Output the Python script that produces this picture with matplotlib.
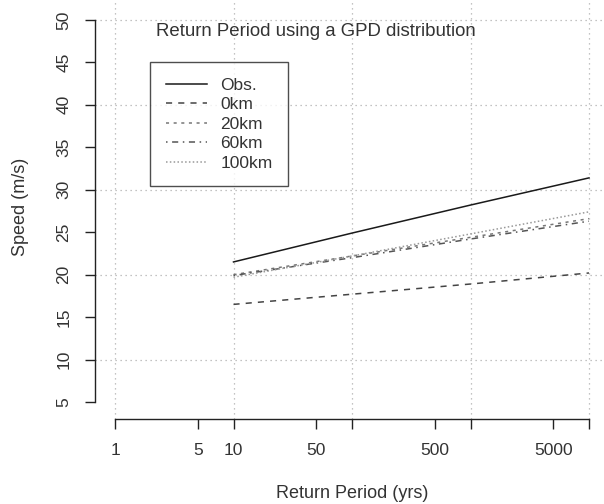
import numpy as np
import matplotlib.pyplot as plt

plt.rcParams['font.family'] = ['Liberation Sans', 'DejaVu Sans']

# return periods (yrs) and return levels (m/s)
return_period = [10, 100, 1000, 10000]
obs = [21.5, 24.9, 28.2, 31.4]
km0 = [16.5, 17.7, 18.9, 20.2]
km20 = [20.0, 22.2, 24.4, 26.6]
km60 = [19.9, 22.0, 24.2, 26.3]
km100 = [19.7, 22.2, 24.8, 27.4]
labels = ["Obs.", "0km", "20km", "60km", "100km"]

x_ticks = [1, 5, 10, 50, 100, 500, 1000, 5000, 10000]
x_ticklabels = ["1", "5", "10", "50", "", "500", "", "5000", ""]
y_ticks = [5, 10, 15, 20, 25, 30, 35, 40, 45, 50]

W, H = 604, 504
fig = plt.figure(figsize=(W / 100, H / 100), dpi=100)
# axes box: left edge at the y axis (x=95 px), bottom at the x axis (y=419 px)
ax = fig.add_axes([95 / W, (H - 419) / H, (W - 95) / W, 419 / H])
ax.set_xscale("log")
ax.set_xlim(10 ** (-20 / 118.5), 10 ** ((W - 115) / 118.5))
ax.set_ylim(5 - 17 / 8.5, 50 + 20 / 8.5)

tc = "#333333"
# dotted grid
for gx in [1, 10, 100, 1000, 10000]:
    ax.axvline(gx, color="#b0b0b0", lw=0.9, ls=(0, (1, 3)), zorder=0)
for gy in [10, 20, 30, 40, 50]:
    ax.axhline(gy, color="#b0b0b0", lw=0.9, ls=(0, (1, 3)), zorder=0)

styles = [("#1a1a1a", "-"), ("#444444", (0, (4, 4))), ("#777777", (0, (2, 3))),
          ("#555555", (0, (1, 3, 4, 3))), ("#999999", (0, (1, 1.5)))]
for ys, lab, (c, ls) in zip([obs, km0, km20, km60, km100], labels, styles):
    ax.plot(return_period, ys, color=c, ls=ls, lw=1.1, label=lab)

for s in ["top", "right"]:
    ax.spines[s].set_visible(False)
ax.spines["left"].set_bounds(5, 50)
ax.spines["bottom"].set_bounds(1, 10000)
for s in ["left", "bottom"]:
    ax.spines[s].set_color("#222222")
    ax.spines[s].set_linewidth(1.0)

ax.set_xticks(x_ticks)
ax.set_xticklabels(x_ticklabels)
ax.xaxis.set_minor_locator(plt.NullLocator())
ax.set_yticks(y_ticks)
ax.set_yticklabels([str(v) for v in y_ticks], rotation=90, va="center")
ax.tick_params(direction="out", length=7, width=1.0, color="#222222",
               labelcolor=tc, labelsize=12.5, pad=10)

fig.text(352 / W, 1 - 493 / H, "Return Period (yrs)", ha="center",
         va="center", fontsize=13, color=tc)
fig.text(21 / W, 1 - 207 / H, "Speed (m/s)", ha="center", va="center",
         rotation=90, fontsize=13, color=tc)

fig.text(316 / W, 1 - 32 / H, "Return Period using a GPD distribution",
         ha="center", va="center", fontsize=13.4, color=tc)

leg = ax.legend(loc="upper left", bbox_to_anchor=(150 / W, 1 - 62 / H),
                bbox_transform=fig.transFigure, fontsize=12.5, frameon=True,
                fancybox=False, handlelength=2.4, handletextpad=0.75,
                labelspacing=0.25, borderpad=0.9, borderaxespad=0)
leg.get_frame().set_edgecolor("#222222")
leg.get_frame().set_linewidth(1.0)
for t in leg.get_texts():
    t.set_color(tc)

fig.savefig("out.png", dpi=100)
